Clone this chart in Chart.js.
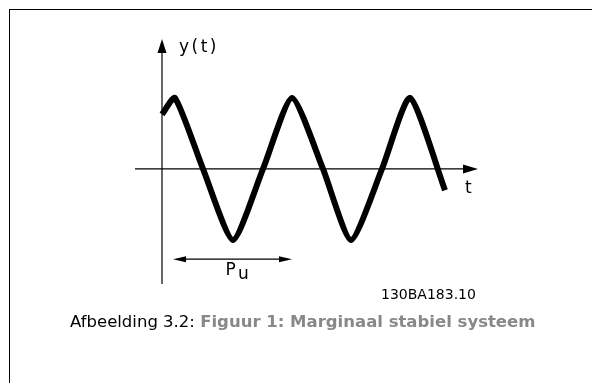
<!DOCTYPE html>
<html>
<head>
<meta charset="utf-8">
<script src="https://cdn.jsdelivr.net/npm/chart.js@4"></script>
<style>
  body { margin: 0; background: #fff; }
  .frame { position: absolute; left: 9px; top: 9px; width: 700px; height: 500px;
           border-top: 1px solid #000; border-left: 1px solid #000; }
  #chart { position: absolute; left: 0; top: 0; }
  .caption { position: absolute; left: 70px; top: 314px; white-space: nowrap;
             font: 16.5px/16px "DejaVu Sans", Verdana, sans-serif; color: #000; }
  .caption b { color: #888; }
</style>
</head>
<body>
<div class="frame"></div>
<canvas id="chart" width="592" height="383"></canvas>
<div class="caption">Afbeelding 3.2: <b>Figuur 1: Marginaal stabiel systeem</b></div>
<script>
// signal (t = time from origin, y = amplitude, peak = 1)
const tValues = [0, 13, 41, 71, 101, 130, 161, 189, 220, 248, 283];
const yValues = [0.77, 1, 0, -1, 0, 1, 0, -1, 0, 1, -0.3];

// axis extents (arrow tips) and the period marker
const tRange = [-27, 316];
const yRange = [-1.62, 1.83];
const periodStart = 13, periodEnd = 130, periodLevel = -1.27;

const axisLabelY = 'y(t)';
const axisLabelT = 't';
const periodLabel = ['P', 'u'];
const drawingCode = '130BA183.10';

const points = tValues.map((t, i) => ({ x: t, y: yValues[i] }));

function arrowHead(ctx, x, y, dir, len, half) {
  // dir: 'up', 'right', 'left'
  ctx.beginPath();
  ctx.moveTo(x, y);
  if (dir === 'up') { ctx.lineTo(x - half, y + len); ctx.lineTo(x + half, y + len); }
  if (dir === 'right') { ctx.lineTo(x - len, y - half); ctx.lineTo(x - len, y + half); }
  if (dir === 'left') { ctx.lineTo(x + len, y - half); ctx.lineTo(x + len, y + half); }
  ctx.closePath();
  ctx.fill();
}

// --- axes with arrows, period marker and labels ---
const sketchAxes = {
  id: 'sketchAxes',
  beforeDatasetsDraw(chart) {
    const { ctx, chartArea, scales } = chart;
    const x0 = scales.x.getPixelForValue(0);
    const y0 = scales.y.getPixelForValue(0);
    ctx.save();
    ctx.strokeStyle = '#000';
    ctx.fillStyle = '#000';
    ctx.lineWidth = 1.2;

    // y axis
    ctx.beginPath();
    ctx.moveTo(x0, chartArea.bottom);
    ctx.lineTo(x0, chartArea.top + 8);
    ctx.stroke();
    arrowHead(ctx, x0, chartArea.top, 'up', 14, 4.5);

    // t axis
    ctx.beginPath();
    ctx.moveTo(chartArea.left, y0);
    ctx.lineTo(chartArea.right - 8, y0);
    ctx.stroke();
    arrowHead(ctx, chartArea.right, y0, 'right', 15, 4.5);

    // period marker
    const pl = scales.x.getPixelForValue(periodStart) - 2;
    const pr = scales.x.getPixelForValue(periodEnd);
    const py = scales.y.getPixelForValue(periodLevel);
    ctx.beginPath();
    ctx.moveTo(pl + 6, py);
    ctx.lineTo(pr - 6, py);
    ctx.stroke();
    arrowHead(ctx, pl, py, 'left', 13, 3);
    arrowHead(ctx, pr, py, 'right', 13, 3);

    // labels
    ctx.textBaseline = 'alphabetic';
    ctx.textAlign = 'left';
    ctx.font = '17px "DejaVu Sans"';
    ctx.letterSpacing = '2.5px';
    ctx.fillText(axisLabelY, x0 + 17, chartArea.top + 13);
    ctx.letterSpacing = '0px';
    ctx.fillText(axisLabelT, chartArea.right - 13, y0 + 24);

    const pm = (pl + pr) / 2;
    ctx.fillText(periodLabel[0], pm - 7, py + 16);
    ctx.fillText(periodLabel[1], pm + 5.5, py + 20);

    ctx.font = '14px "DejaVu Sans"';
    ctx.fillText(drawingCode, 381, chartArea.bottom + 15);
    ctx.restore();
  }
};

new Chart(document.getElementById('chart'), {
  type: 'line',
  data: {
    datasets: [{
      data: points,
      borderColor: '#000',
      borderWidth: 6,
      pointRadius: 0,
      tension: 0.2,
      borderJoinStyle: 'round',
      fill: false
    }]
  },
  options: {
    responsive: false,
    animation: false,
    layout: { padding: { left: 135, right: 114, top: 39, bottom: 99 } },
    scales: {
      x: { type: 'linear', min: tRange[0], max: tRange[1], display: false },
      y: { min: yRange[0], max: yRange[1], display: false }
    },
    plugins: { legend: { display: false }, tooltip: { enabled: false } }
  },
  plugins: [sketchAxes]
});
</script>
</body>
</html>
